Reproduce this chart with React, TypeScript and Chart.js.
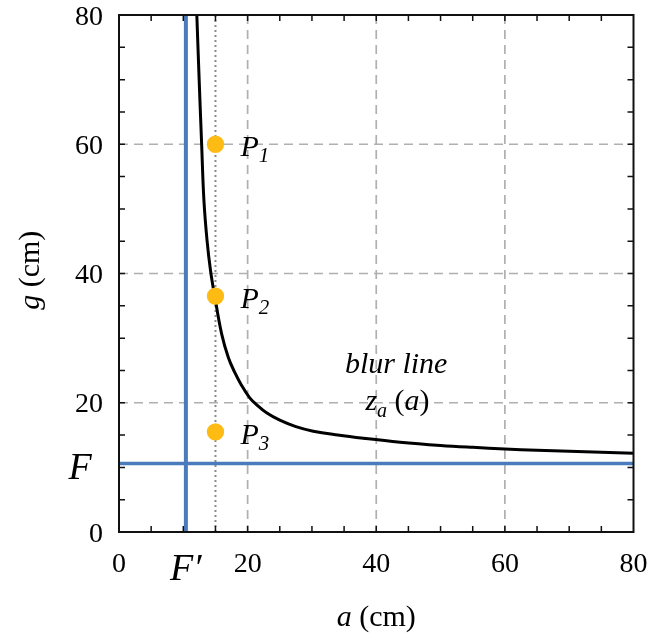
import React, { useEffect, useRef } from "react";
import { Chart, registerables } from "chart.js";

Chart.register(...registerables);

// ---- data ----
const F_PRIME = 10.4; // vertical asymptote (a)
const F_VAL = 10.6; // horizontal asymptote (g)
const P_A = 15; // a position of the dotted line / points

const curveA = [12.1, 12.5, 12.85, 13.2, 13.7, 14.25, 14.9, 15.95, 17.0, 18.0, 19.0, 20.3, 21.5, 23, 25, 27.5, 30.2, 34, 38, 43.7, 50, 55, 60, 65, 70, 75, 80];
const curveG = [80, 69, 60, 51.4, 45, 40.3, 36.4, 30.7, 27, 24.7, 22.8, 20.8, 19.6, 18.4, 17.3, 16.3, 15.6, 15.0, 14.5, 13.9, 13.4, 13.1, 12.85, 12.65, 12.5, 12.35, 12.2];

const pointA = [15, 15, 15];
const pointG = [60, 36.5, 15.5];
const pointSubs = ["1", "2", "3"];

const xTicks = [0, 20, 40, 60, 80];
const yTicks = [0, 20, 40, 60, 80];
const gridValues = [20, 40, 60];

const SERIF = '"Liberation Serif", "Times New Roman", serif';
const BLUE = "#4a7cbd";
const ORANGE = "#fdbb14";

type Part = { t: string; it?: boolean; size: number; dy?: number };

function drawRich(ctx: CanvasRenderingContext2D, parts: Part[], x: number, y: number, align: "left" | "center" | "right") {
  ctx.save();
  ctx.textBaseline = "alphabetic";
  ctx.textAlign = "left";
  let total = 0;
  const widths = parts.map((p) => {
    ctx.font = `${p.it ? "italic " : ""}${p.size}px ${SERIF}`;
    const w = ctx.measureText(p.t).width;
    total += w;
    return w;
  });
  let cx = align === "left" ? x : align === "center" ? x - total / 2 : x - total;
  parts.forEach((p, i) => {
    ctx.font = `${p.it ? "italic " : ""}${p.size}px ${SERIF}`;
    ctx.fillText(p.t, cx, y + (p.dy || 0));
    cx += widths[i];
  });
  ctx.restore();
}

const decorPlugin = {
  id: "decor",
  beforeDatasetsDraw(chart: any) {
    const { ctx, chartArea: ca, scales } = chart;
    const xs = scales.x, ys = scales.y;
    ctx.save();
    ctx.strokeStyle = "#b0b0b0";
    ctx.lineWidth = 1.7;
    ctx.setLineDash([9, 6]);
    gridValues.forEach((v) => {
      const px = xs.getPixelForValue(v);
      ctx.beginPath();
      ctx.moveTo(px, ca.top);
      ctx.lineTo(px, ca.bottom);
      ctx.stroke();
      const py = ys.getPixelForValue(v);
      ctx.beginPath();
      ctx.moveTo(ca.left, py);
      ctx.lineTo(ca.right, py);
      ctx.stroke();
    });
    ctx.restore();
  },
  afterDatasetsDraw(chart: any) {
    const { ctx, chartArea: ca, scales } = chart;
    const xs = scales.x, ys = scales.y;
    ctx.save();
    // frame
    ctx.strokeStyle = "#111";
    ctx.lineWidth = 2;
    ctx.strokeRect(ca.left, ca.top, ca.right - ca.left, ca.bottom - ca.top);
    // inward ticks every 5
    ctx.lineWidth = 1.5;
    for (let v = 5; v < 80; v += 5) {
      const px = xs.getPixelForValue(v);
      const py = ys.getPixelForValue(v);
      ctx.beginPath();
      ctx.moveTo(px, ca.bottom); ctx.lineTo(px, ca.bottom - 6);
      ctx.moveTo(px, ca.top); ctx.lineTo(px, ca.top + 6);
      ctx.moveTo(ca.left, py); ctx.lineTo(ca.left + 6, py);
      ctx.moveTo(ca.right, py); ctx.lineTo(ca.right - 6, py);
      ctx.stroke();
    }
    ctx.fillStyle = "#000";
    // tick labels
    xTicks.forEach((v) => {
      drawRich(ctx, [{ t: String(v), size: 28 }], xs.getPixelForValue(v), ca.bottom + 40, "center");
    });
    yTicks.forEach((v) => {
      drawRich(ctx, [{ t: String(v), size: 28 }], ca.left - 16, ys.getPixelForValue(v) + 9.5, "right");
    });
    // F and F'
    drawRich(ctx, [{ t: "F", it: true, size: 38 }], 80, ys.getPixelForValue(F_VAL) + 16, "center");
    drawRich(ctx, [{ t: "F\u2032", it: true, size: 38 }], xs.getPixelForValue(F_PRIME), ca.bottom + 48, "center");
    // axis titles
    drawRich(ctx, [{ t: "a", it: true, size: 30 }, { t: " (cm)", size: 30 }], xs.getPixelForValue(40), ca.bottom + 94, "center");
    ctx.save();
    ctx.translate(39, ys.getPixelForValue(40.5));
    ctx.rotate(-Math.PI / 2);
    drawRich(ctx, [{ t: "g", it: true, size: 30 }, { t: " (cm)", size: 30 }], 0, 0, "center");
    ctx.restore();
    // point labels
    pointA.forEach((a, i) => {
      const px = xs.getPixelForValue(a);
      const py = ys.getPixelForValue(pointG[i]);
      drawRich(ctx, [{ t: "P", it: true, size: 30 }, { t: pointSubs[i], it: true, size: 21, dy: 6 }], px + 25, py + 12, "left");
    });
    // blur line annotation
    drawRich(ctx, [{ t: "blur line", it: true, size: 30 }], xs.getPixelForValue(43.1), ys.getPixelForValue(24.6), "center");
    drawRich(ctx, [
      { t: "z", it: true, size: 30 },
      { t: "a", it: true, size: 20, dy: 7 },
      { t: " (", size: 30 },
      { t: "a", it: true, size: 30 },
      { t: ")", size: 30 },
    ], xs.getPixelForValue(43.3), ys.getPixelForValue(18.9), "center");
    ctx.restore();
  },
};

export default function App() {
  const ref = useRef<HTMLCanvasElement | null>(null);
  useEffect(() => {
    if (!ref.current) return;
    const chart = new Chart(ref.current, {
      type: "line",
      data: {
        datasets: [
          {
            data: pointA.map((a, i) => ({ x: a, y: pointG[i] })),
            showLine: false,
            pointRadius: 8.7,
            pointBackgroundColor: ORANGE,
            pointBorderColor: ORANGE,
            pointBorderWidth: 0,
            order: 0,
          },
          {
            data: curveA.map((a, i) => ({ x: a, y: curveG[i] })),
            borderColor: "#000",
            borderWidth: 3,
            pointRadius: 0,
            tension: 0.4,
            order: 1,
          },
          {
            data: [{ x: F_PRIME, y: 0 }, { x: F_PRIME, y: 80 }],
            borderColor: BLUE,
            borderWidth: 4,
            pointRadius: 0,
            order: 2,
          },
          {
            data: [{ x: 0, y: F_VAL }, { x: 80, y: F_VAL }],
            borderColor: BLUE,
            borderWidth: 3.5,
            pointRadius: 0,
            order: 3,
          },
          {
            data: [{ x: P_A, y: 0 }, { x: P_A, y: 80 }],
            borderColor: "#8a8a8a",
            borderWidth: 2,
            borderDash: [2, 3],
            pointRadius: 0,
            order: 4,
          },
        ] as any,
      },
      options: {
        animation: false,
        responsive: false,
        maintainAspectRatio: false,
        layout: { padding: { left: 119, top: 15, right: 21.5, bottom: 105 } },
        plugins: { legend: { display: false }, tooltip: { enabled: false } },
        scales: {
          x: { type: "linear", min: 0, max: 80, display: false },
          y: { type: "linear", min: 0, max: 80, display: false },
        },
      },
      plugins: [decorPlugin],
    });
    return () => chart.destroy();
  }, []);
  return (
    <div style={{ position: "fixed", left: 0, top: 0, width: 655, height: 637, background: "#fff" }}>
      <canvas ref={ref} width={655} height={637} style={{ width: 655, height: 637 }} />
    </div>
  );
}
